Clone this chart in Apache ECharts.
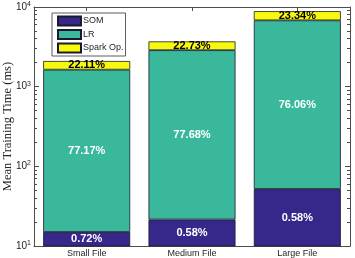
<!DOCTYPE html>
<html><head><meta charset="utf-8">
<script src="https://cdn.jsdelivr.net/npm/echarts@6/dist/echarts.min.js"></script>
<style>html,body{margin:0;padding:0;background:#fff}#c{width:355px;height:258px}</style>
</head><body><div id="c"></div>
<script>
const categories = ['Small File', 'Medium File', 'Large File'];
const seriesNames = ['SOM', 'LR', 'Spark Op.'];
const somValues = [15, 21.5, 52];
const lrValues = [1620, 2850, 6750];
const sparkValues = [465, 830, 2070];
const somPct = ['0.72%', '0.58%', '0.58%'];
const lrPct = ['77.17%', '77.68%', '76.06%'];
const sparkPct = ['22.11%', '22.73%', '23.34%'];
const yTicks = [10, 100, 1000, 10000];

const colors = ['#35288a', '#39b89b', '#f8fa0e'];
const font = 'Liberation Sans, Arial, Helvetica, sans-serif';
const axisColor = '#4d4d4d';

function mk(name, vals, pcts, color, labelColor) {
  return {
    name: name, type: 'bar', stack: 'total', barWidth: 87,
    itemStyle: { color: color, borderColor: '#1a1a2a', borderWidth: 0.8 },
    label: {
      show: true, position: 'inside', color: labelColor,
      fontFamily: font, fontWeight: 'bold', fontSize: 11,
      formatter: p => pcts[p.dataIndex]
    },
    data: vals
  };
}

const chart = echarts.init(document.getElementById('c'), null, { renderer: 'canvas' });
chart.setOption({
  animation: false,
  grid: { left: 34, right: 5, top: 7, bottom: 12, containLabel: false, outerBoundsMode: 'none' },
  legend: {
    orient: 'vertical', left: 52, top: 13,
    data: seriesNames,
    itemWidth: 23, itemHeight: 9, itemGap: 2.5,
    padding: [2.5, 2, 2.5, 5],
    borderColor: '#333', borderWidth: 0.8, backgroundColor: '#fff',
    textStyle: { fontFamily: font, fontSize: 9, color: '#262626', padding: [0, 0, 0, -3] },
    icon: 'rect'
  },
  xAxis: [
    {
      type: 'category', data: categories, position: 'bottom',
      axisLine: { lineStyle: { color: axisColor, width: 1 } },
      axisTick: { show: true, inside: true, alignWithLabel: true, length: 4, lineStyle: { color: axisColor } },
      axisLabel: { fontFamily: font, fontSize: 9, color: '#262626', margin: 3 },
      splitLine: { show: false }
    },
    {
      type: 'category', data: categories, position: 'top',
      axisLine: { lineStyle: { color: axisColor, width: 1 } },
      axisTick: { show: true, inside: true, alignWithLabel: true, length: 4, lineStyle: { color: axisColor } },
      axisLabel: { show: false }
    }
  ],
  yAxis: [
    {
      type: 'log', logBase: 10, min: yTicks[0], max: yTicks[yTicks.length - 1],
      name: 'Mean Training Time (ms)', nameLocation: 'middle', nameGap: 20, nameMoveOverlap: false,
      nameTextStyle: { fontFamily: 'Liberation Serif, DejaVu Serif, serif', fontSize: 12.5, color: '#262626' },
      axisLine: { show: true, lineStyle: { color: axisColor, width: 1 } },
      axisTick: { show: true, inside: true, length: 5, lineStyle: { color: axisColor } },
      minorTick: { show: true, splitNumber: 9, length: 3, lineStyle: { color: axisColor } },
      splitLine: { show: false },
      axisLabel: {
        margin: 3, color: '#262626',
        formatter: v => '{b|10}{s|' + Math.round(Math.log10(v)) + '}',
        rich: {
          b: { fontFamily: font, fontSize: 10, color: '#262626' },
          s: { fontFamily: font, fontSize: 7, color: '#262626', verticalAlign: 'top', padding: [0, 0, 6, 0] }
        }
      }
    },
    {
      type: 'log', logBase: 10, min: yTicks[0], max: yTicks[yTicks.length - 1], position: 'right',
      axisLine: { show: true, lineStyle: { color: axisColor, width: 1 } },
      axisTick: { show: true, inside: true, length: 5, lineStyle: { color: axisColor } },
      minorTick: { show: true, splitNumber: 9, length: 3, lineStyle: { color: axisColor } },
      splitLine: { show: false },
      axisLabel: { show: false }
    }
  ],
  series: [
    mk(seriesNames[0], somValues, somPct, colors[0], '#ffffff'),
    mk(seriesNames[1], lrValues, lrPct, colors[1], '#ffffff'),
    mk(seriesNames[2], sparkValues, sparkPct, colors[2], '#000000')
  ]
});
</script></body></html>
